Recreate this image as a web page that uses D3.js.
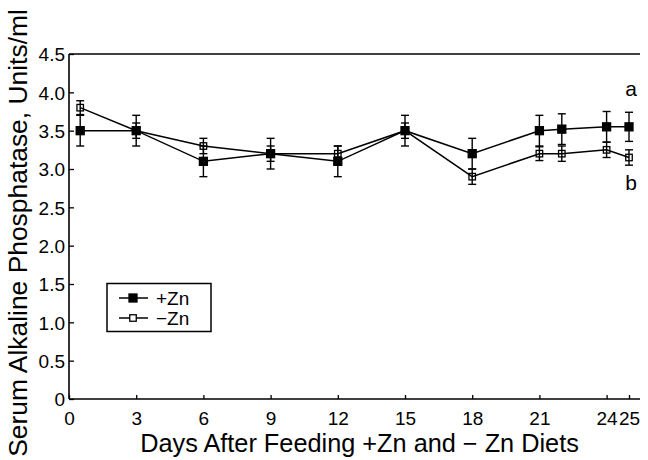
<!DOCTYPE html>
<html>
<head>
<meta charset="utf-8">
<script src="https://cdn.jsdelivr.net/npm/d3@7"></script>
<style>
  html, body { margin: 0; padding: 0; background: #fff; }
  svg { display: block; font-family: "Liberation Sans", Arial, Helvetica, sans-serif; }
</style>
</head>
<body>
<svg id="chart" width="648" height="460"></svg>
<script>
// ---- data ----
const days        = [0.5, 3, 6, 9, 12, 15, 18, 21, 22, 24, 25];
const plusZn      = [3.5, 3.5, 3.1, 3.2, 3.1, 3.5, 3.2, 3.5, 3.52, 3.55, 3.55];
const plusZnErr   = [0.2, 0.2, 0.2, 0.2, 0.2, 0.2, 0.2, 0.2, 0.2, 0.2, 0.19];
const minusZn     = [3.8, 3.5, 3.3, 3.2, 3.2, 3.5, 2.9, 3.2, 3.2, 3.25, 3.15];
const minusZnErr  = [0.09, 0.1, 0.1, 0.1, 0.1, 0.1, 0.1, 0.09, 0.1, 0.1, 0.1];
const xTicks      = [0, 3, 6, 9, 12, 15, 18, 21, 24, 25];
const yTicks      = [0, 0.5, 1.0, 1.5, 2.0, 2.5, 3.0, 3.5, 4.0, 4.5];
const seriesNames = ["+Zn", "\u2212Zn"];
const xTitle = "Days After Feeding +Zn and \u2212 Zn Diets";
const yTitle = "Serum Alkaline Phosphatase, Units/ml";
const sigLabels = ["a", "b"];

// ---- layout ----
const svg = d3.select("#chart");
const x = d3.scaleLinear().domain([0, 25]).range([69, 629]);
const y = d3.scaleLinear().domain([0, 4.5]).range([399, 54]);
const xRight = 640;
const ink = "#000";

// axes
const xAxis = d3.axisBottom(x).tickValues(xTicks).tickFormat(d3.format("d"))
  .tickSizeInner(-4).tickSizeOuter(0).tickPadding(10);
const gx = svg.append("g").attr("transform", `translate(0,${y(0)})`).call(xAxis);
gx.select(".domain").remove();
gx.selectAll(".tick line").attr("stroke", ink).attr("stroke-width", 1.3);
gx.selectAll(".tick text").attr("font-size", 19).attr("fill", ink).attr("y", 13).attr("dy", "0.71em");

const yAxis = d3.axisLeft(y).tickValues(yTicks)
  .tickFormat(d => d === 0 ? "0" : d3.format(".1f")(d))
  .tickSizeInner(-5).tickSizeOuter(0).tickPadding(4);
const gy = svg.append("g").attr("transform", `translate(${x(0)},0)`).call(yAxis);
gy.select(".domain").remove();
gy.selectAll(".tick line").attr("stroke", ink).attr("stroke-width", 1.3);
gy.selectAll(".tick text").attr("font-size", 19).attr("fill", ink).attr("x", -4).attr("dy", "0.36em");

// frame lines: left, bottom, top
svg.append("line").attr("x1", x(0)).attr("x2", x(0)).attr("y1", y(4.5)).attr("y2", y(0))
  .attr("stroke", ink).attr("stroke-width", 1.6);
svg.append("line").attr("x1", x(0)).attr("x2", xRight).attr("y1", y(0)).attr("y2", y(0))
  .attr("stroke", ink).attr("stroke-width", 1.6);
svg.append("line").attr("x1", x(0)).attr("x2", xRight).attr("y1", y(4.5)).attr("y2", y(4.5))
  .attr("stroke", ink).attr("stroke-width", 1.3);

// titles, fitted to the reference's measured lengths
function fit(sel, target) {
  let fs = 20;
  sel.attr("font-size", fs);
  const w = sel.node().getComputedTextLength();
  sel.attr("font-size", fs * target / w);
}
const xt = svg.append("text").attr("x", 359.5).attr("y", 452).attr("text-anchor", "middle")
  .attr("fill", ink).text(xTitle);
fit(xt, 439);
const yt = svg.append("text").attr("transform", "translate(27,233) rotate(-90)")
  .attr("text-anchor", "middle").attr("fill", ink).text(yTitle);
fit(yt, 448);

// data helpers
const plusData  = days.map((d, i) => ({ d, v: plusZn[i],  e: plusZnErr[i] }));
const minusData = days.map((d, i) => ({ d, v: minusZn[i], e: minusZnErr[i] }));
const line = d3.line().x(p => x(p.d)).y(p => y(p.v));

function drawSeries(data, filled) {
  const g = svg.append("g");
  g.append("path").datum(data).attr("d", line).attr("fill", "none")
    .attr("stroke", ink).attr("stroke-width", 1.5);
  const eb = g.selectAll(".eb").data(data).enter().append("g");
  const cap = 4;
  eb.append("line").attr("x1", p => x(p.d)).attr("x2", p => x(p.d))
    .attr("y1", p => y(p.v + p.e)).attr("y2", p => y(p.v - p.e))
    .attr("stroke", ink).attr("stroke-width", 1.4);
  eb.append("line").attr("x1", p => x(p.d) - cap).attr("x2", p => x(p.d) + cap)
    .attr("y1", p => y(p.v + p.e)).attr("y2", p => y(p.v + p.e))
    .attr("stroke", ink).attr("stroke-width", 1.4);
  eb.append("line").attr("x1", p => x(p.d) - cap).attr("x2", p => x(p.d) + cap)
    .attr("y1", p => y(p.v - p.e)).attr("y2", p => y(p.v - p.e))
    .attr("stroke", ink).attr("stroke-width", 1.4);
  const s = filled ? 8 : 6.5;
  g.selectAll(".m").data(data).enter().append("rect")
    .attr("x", p => x(p.d) - s / 2).attr("y", p => y(p.v) - s / 2)
    .attr("width", s).attr("height", s)
    .attr("fill", filled ? ink : "none").attr("stroke", ink).attr("stroke-width", 1.3);
}
drawSeries(minusData, false);
drawSeries(plusData, true);

// significance letters
svg.append("text").attr("x", 631).attr("y", 96).attr("text-anchor", "middle")
  .attr("font-size", 21).attr("fill", ink).text(sigLabels[0]);
svg.append("text").attr("x", 631).attr("y", 190).attr("text-anchor", "middle")
  .attr("font-size", 21).attr("fill", ink).text(sigLabels[1]);

// legend
const lg = svg.append("g");
lg.append("rect").attr("x", 107).attr("y", 283.5).attr("width", 104).attr("height", 48)
  .attr("fill", "#fff").attr("stroke", ink).attr("stroke-width", 1.5);
const rows = [298, 318];
seriesNames.forEach((name, i) => {
  const ry = rows[i];
  lg.append("line").attr("x1", 119).attr("x2", 148).attr("y1", ry).attr("y2", ry)
    .attr("stroke", ink).attr("stroke-width", 1.5);
  const s = i === 0 ? 8 : 6.5;
  lg.append("rect").attr("x", 133 - s / 2).attr("y", ry - s / 2).attr("width", s).attr("height", s)
    .attr("fill", i === 0 ? ink : "#fff").attr("stroke", ink).attr("stroke-width", 1.3);
  lg.append("text").attr("x", 156).attr("y", ry).attr("dy", "0.36em")
    .attr("font-size", 19).attr("fill", ink).text(name);
});
</script>
</body>
</html>
